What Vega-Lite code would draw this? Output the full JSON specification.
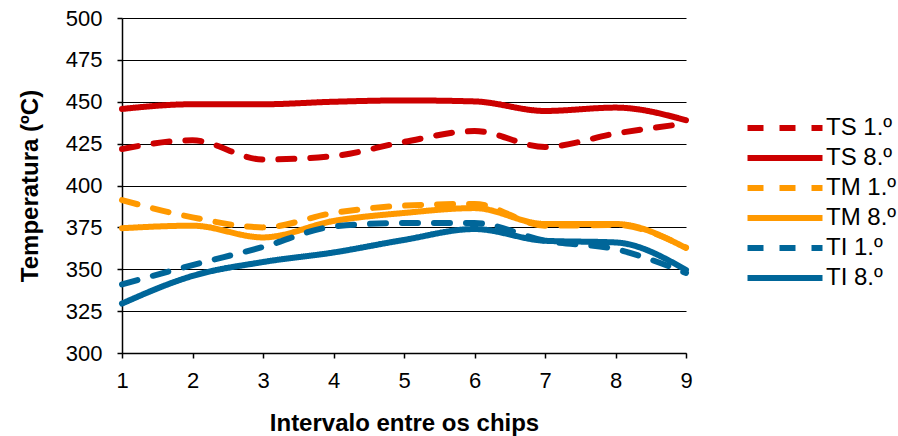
{
  "$schema": "https://vega.github.io/schema/vega-lite/v6.json",
  "width": 564,
  "height": 335,
  "autosize": {"type": "none"},
  "padding": {"left": 122, "top": 18, "right": 212, "bottom": 83},
  "background": "white",
  "config": {
    "font": "Liberation Sans",
    "view": {"stroke": null}
  },
  "data": {
    "values": [
      {"x": 1, "s": "TS 1.º", "t": 421.8}, {"x": 2, "s": "TS 1.º", "t": 427}, {"x": 3, "s": "TS 1.º", "t": 415.5}, {"x": 4, "s": "TS 1.º", "t": 417.6}, {"x": 5, "s": "TS 1.º", "t": 426}, {"x": 6, "s": "TS 1.º", "t": 432.5}, {"x": 7, "s": "TS 1.º", "t": 423}, {"x": 8, "s": "TS 1.º", "t": 431}, {"x": 9, "s": "TS 1.º", "t": 437},
      {"x": 1, "s": "TS 8.º", "t": 445.7}, {"x": 2, "s": "TS 8.º", "t": 448.5}, {"x": 3, "s": "TS 8.º", "t": 448.5}, {"x": 4, "s": "TS 8.º", "t": 450}, {"x": 5, "s": "TS 8.º", "t": 450.8}, {"x": 6, "s": "TS 8.º", "t": 450.2}, {"x": 7, "s": "TS 8.º", "t": 444.5}, {"x": 8, "s": "TS 8.º", "t": 446.5}, {"x": 9, "s": "TS 8.º", "t": 439},
      {"x": 1, "s": "TM 1.º", "t": 391.3}, {"x": 2, "s": "TM 1.º", "t": 381}, {"x": 3, "s": "TM 1.º", "t": 375}, {"x": 4, "s": "TM 1.º", "t": 383.6}, {"x": 5, "s": "TM 1.º", "t": 388}, {"x": 6, "s": "TM 1.º", "t": 389}, {"x": 7, "s": "TM 1.º", "t": 376}, {"x": 8, "s": "TM 1.º", "t": 376.4}, {"x": 9, "s": "TM 1.º", "t": 363},
      {"x": 1, "s": "TM 8.º", "t": 374.5}, {"x": 2, "s": "TM 8.º", "t": 376}, {"x": 3, "s": "TM 8.º", "t": 369}, {"x": 4, "s": "TM 8.º", "t": 378.8}, {"x": 5, "s": "TM 8.º", "t": 383.6}, {"x": 6, "s": "TM 8.º", "t": 386.5}, {"x": 7, "s": "TM 8.º", "t": 377}, {"x": 8, "s": "TM 8.º", "t": 377}, {"x": 9, "s": "TM 8.º", "t": 362.7},
      {"x": 1, "s": "TI 1.º", "t": 341}, {"x": 2, "s": "TI 1.º", "t": 352.5}, {"x": 3, "s": "TI 1.º", "t": 363.3}, {"x": 4, "s": "TI 1.º", "t": 375.5}, {"x": 5, "s": "TI 1.º", "t": 377.6}, {"x": 6, "s": "TI 1.º", "t": 377.6}, {"x": 7, "s": "TI 1.º", "t": 367}, {"x": 8, "s": "TI 1.º", "t": 362}, {"x": 9, "s": "TI 1.º", "t": 347.8},
      {"x": 1, "s": "TI 8.º", "t": 329.5}, {"x": 2, "s": "TI 8.º", "t": 346}, {"x": 3, "s": "TI 8.º", "t": 354.3}, {"x": 4, "s": "TI 8.º", "t": 360}, {"x": 5, "s": "TI 8.º", "t": 367.5}, {"x": 6, "s": "TI 8.º", "t": 374}, {"x": 7, "s": "TI 8.º", "t": 367}, {"x": 8, "s": "TI 8.º", "t": 366}, {"x": 9, "s": "TI 8.º", "t": 349.6}
    ]
  },
  "mark": {"type": "line", "interpolate": "monotone", "strokeWidth": 6, "strokeCap": "round", "strokeJoin": "round"},
  "encoding": {
    "x": {
      "field": "x", "type": "quantitative",
      "scale": {"domain": [1, 9], "nice": false},
      "axis": {
        "title": "Intervalo entre os chips", "titleFontSize": 24, "titleFontWeight": "bold", "titleColor": "black", "titlePadding": 20,
        "values": [1, 2, 3, 4, 5, 6, 7, 8, 9], "format": "d", "labelFlush": false,
        "labelFontSize": 22, "labelColor": "black", "labelPadding": 12,
        "grid": false, "domainColor": "black", "domainWidth": 1.5, "tickColor": "black", "tickSize": 5, "tickWidth": 1.5
      }
    },
    "y": {
      "field": "t", "type": "quantitative",
      "scale": {"domain": [300, 500], "nice": false, "zero": false},
      "axis": {
        "title": "Temperatura (ºC)", "titleFontSize": 24, "titleFontWeight": "bold", "titleColor": "black", "titlePadding": 23,
        "values": [300, 325, 350, 375, 400, 425, 450, 475, 500], "labelFlush": false,
        "labelFontSize": 22, "labelColor": "black", "labelPadding": 15,
        "grid": true, "gridColor": "black", "gridWidth": 1.2, "gridOpacity": 1,
        "domainColor": "black", "domainWidth": 1.5, "tickColor": "black", "tickSize": 5, "tickWidth": 1.5
      }
    },
    "color": {
      "field": "s", "type": "nominal",
      "scale": {
        "domain": ["TS 1.º", "TS 8.º", "TM 1.º", "TM 8.º", "TI 1.º", "TI 8.º"],
        "range": ["#CC0000", "#CC0000", "#FF9900", "#FF9900", "#006699", "#006699"]
      },
      "legend": {
        "title": null, "orient": "none", "legendX": 645, "legendY": 92, "padding": 0,
        "symbolType": "M-2.5,0H2.5", "symbolSize": 900, "symbolStrokeWidth": 6,
        "labelFontSize": 24, "labelColor": "black", "labelOffset": 23, "rowPadding": -4.6
      }
    },
    "strokeDash": {
      "field": "s", "type": "nominal",
      "scale": {
        "domain": ["TS 1.º", "TS 8.º", "TM 1.º", "TM 8.º", "TI 1.º", "TI 8.º"],
        "range": [[16, 16], [1, 0], [16, 16], [1, 0], [16, 16], [1, 0]]
      },
      "legend": {
        "title": null, "orient": "none", "legendX": 645, "legendY": 92, "padding": 0,
        "symbolType": "M-2.5,0H2.5", "symbolSize": 900, "symbolStrokeWidth": 6,
        "labelFontSize": 24, "labelColor": "black", "labelOffset": 23, "rowPadding": -4.6
      }
    }
  }
}
